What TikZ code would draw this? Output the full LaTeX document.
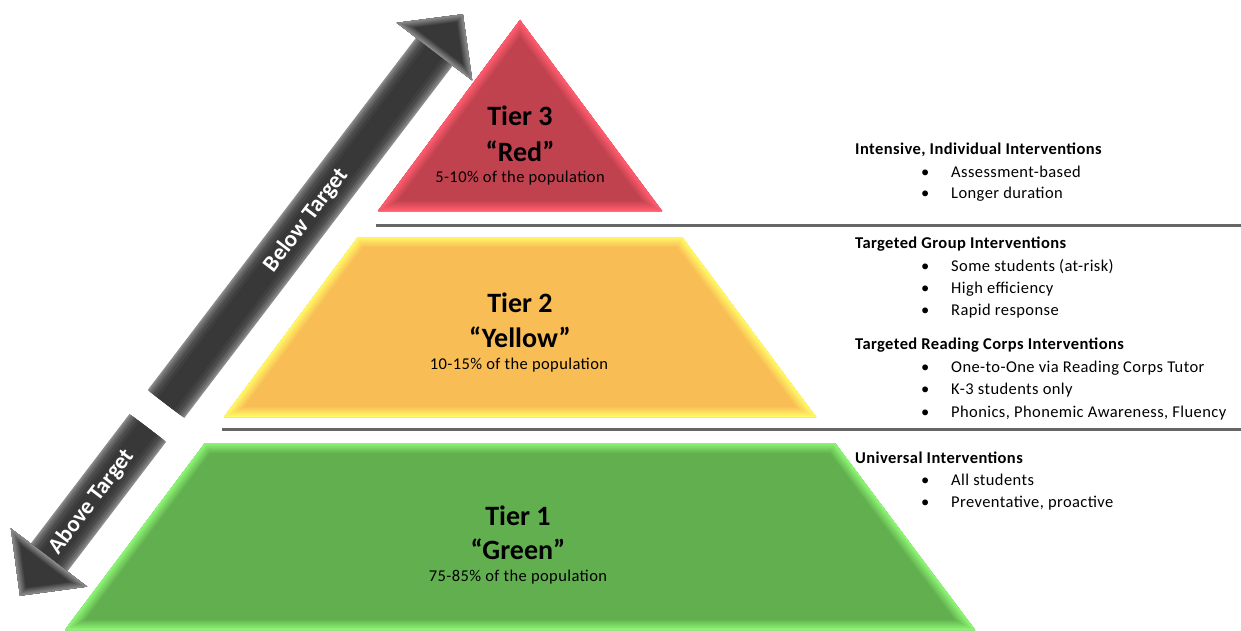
\documentclass[tikz,border=0pt]{standalone}
\usepackage{fontspec}
\setmainfont{Carlito}
\newfontfamily\spacedfont[LetterSpace=2.5]{Carlito}
\definecolor{redmain}{HTML}{C1424F}
\definecolor{redge}{HTML}{FF5C6E}
\definecolor{yelmain}{HTML}{F9BD56}
\definecolor{yeledge}{HTML}{FFF864}
\definecolor{grnmain}{HTML}{62AF50}
\definecolor{grnedge}{HTML}{8CF573}
\definecolor{arrdark}{HTML}{383838}
\definecolor{arredge}{HTML}{8A8A8A}
\definecolor{linegray}{HTML}{666666}
% bevelled polygon: #1 open path, #2 inner colour, #3 edge colour, #4 bevel width (pt)
\newcommand\bevelshape[4]{%
  \begin{scope}
    \clip #1 -- cycle;
    \fill[#2] #1 -- cycle;
    \foreach \k in {1,...,10}{%
      \pgfmathsetmacro\bvw{(11-\k)*#4/5}%
      \pgfmathtruncatemacro\bvp{\k*10}%
      \draw[line width=\bvw*1pt, draw=#3!\bvp!#2, line join=miter] #1 -- cycle;
    }%
  \end{scope}}
\begin{document}
\begin{tikzpicture}[x=1pt,y=-1pt,
  tiertitle/.style={font=\fontsize{28}{30}\selectfont\bfseries, text=black, inner sep=0pt},
  tiersub/.style={font=\spacedfont\fontsize{16.5}{18}\selectfont, text=black, inner sep=0pt},
  headtext/.style={anchor=west, font=\spacedfont\fontsize{16.5}{18}\selectfont\bfseries, inner sep=0pt, text height=11pt, text depth=3pt, yshift=-2.5pt},
  itemtext/.style={anchor=west, font=\spacedfont\fontsize{16.5}{18}\selectfont, inner sep=0pt, text height=11pt, text depth=3pt, yshift=-2.5pt},
  sepline/.style={line width=3.5pt, draw=linegray},
  arrowtext/.style={font=\fontsize{23}{25}\selectfont\bfseries, text=white, rotate=52.7, inner sep=0pt}]
\useasboundingbox (0,0) rectangle (1241,631);
\fill[white] (0,0) rectangle (1241,631);

% ---------- arrows ----------
\begin{scope}[shift={(166,404)}, rotate=52.7, x=1pt, y=1pt]
  \coordinate (upbase) at (0,0);
  \coordinate (upneck) at (443,0);
  \coordinate (uptip) at (490,0);
  \coordinate (dnbase) at (-30,0);
  \coordinate (dnneck) at (-193,0);
  \coordinate (dntip) at (-241,0);
  \foreach \w/\c in {46/100,43/80,40/60,36/40,32/22,26/8,20/0}{
    \draw[line width=\w pt, draw=arredge!\c!arrdark] (upbase) -- (upneck);
    \draw[line width=\w pt, draw=arredge!\c!arrdark] (dnbase) -- (dnneck);
  }
  \bevelshape{(443,47.5) -- (uptip) -- (443,-47.5)}{arrdark}{arredge}{7}
  \bevelshape{(-193,48) -- (dntip) -- (-193,-48)}{arrdark}{arredge}{7}
  \node[arrowtext] (belowtxt) at (231,0) {Below Target};
  \node[arrowtext] (abovetxt) at (-123,0) {Above Target};
\end{scope}

% ---------- pyramid ----------
\bevelshape{(378,211) -- (520,20) -- (662,211)}{redmain}{redge}{10}
\bevelshape{(224,417) -- (358,237) -- (682,237) -- (816,417)}{yelmain}{yeledge}{10}
\bevelshape{(65,630) -- (205,443) -- (835,443) -- (975,630)}{grnmain}{grnedge}{10}

% ---------- separators ----------
\coordinate (s1a) at (376,225.5);
\coordinate (s1b) at (1241,225.5);
\coordinate (s2a) at (222,429.5);
\coordinate (s2b) at (1241,429.5);
\draw[sepline] (s1a) -- (s1b);
\draw[sepline] (s2a) -- (s2b);

% ---------- tier labels ----------
\node[tiertitle] (t3) at (520,116) {Tier 3};
\node[tiertitle] (t3n) at (520,151) {“Red”};
\node[tiersub] (t3p) at (520,178) {5-10\% of the population};
\node[tiertitle] (t2) at (520,303) {Tier 2};
\node[tiertitle] (t2n) at (520,337) {“Yellow”};
\node[tiersub] (t2p) at (519,365) {10-15\% of the population};
\node[tiertitle] (t1) at (518,516) {Tier 1};
\node[tiertitle] (t1n) at (518,549) {“Green”};
\node[tiersub] (t1p) at (518,577) {75-85\% of the population};

% ---------- right column ----------
\node[headtext] (h3) at (855,148) {Intensive, Individual Interventions};
\node[itemtext] (b31) at (921,171) {•};
\node[itemtext] (i31) at (951,171) {Assessment-based};
\node[itemtext] (b32) at (921,192) {•};
\node[itemtext] (i32) at (951,192) {Longer duration};

\node[headtext] (h2a) at (855,242) {Targeted Group Interventions};
\node[itemtext] (b21) at (921,265) {•};
\node[itemtext] (i21) at (951,265) {Some students (at-risk)};
\node[itemtext] (b22) at (921,287) {•};
\node[itemtext] (i22) at (951,287) {High efficiency};
\node[itemtext] (b23) at (921,309) {•};
\node[itemtext] (i23) at (951,309) {Rapid response};

\node[headtext] (h2b) at (855,343) {Targeted Reading Corps Interventions};
\node[itemtext] (b24) at (921,366) {•};
\node[itemtext] (i24) at (951,366) {One-to-One via Reading Corps Tutor};
\node[itemtext] (b25) at (921,388) {•};
\node[itemtext] (i25) at (951,388) {K-3 students only};
\node[itemtext] (b26) at (921,411) {•};
\node[itemtext] (i26) at (951,411) {Phonics, Phonemic Awareness, Fluency};

\node[headtext] (h1) at (855,457) {Universal Interventions};
\node[itemtext] (b11) at (921,479) {•};
\node[itemtext] (i11) at (951,479) {All students};
\node[itemtext] (b12) at (921,501) {•};
\node[itemtext] (i12) at (951,501) {Preventative, proactive};
\end{tikzpicture}
\end{document}
